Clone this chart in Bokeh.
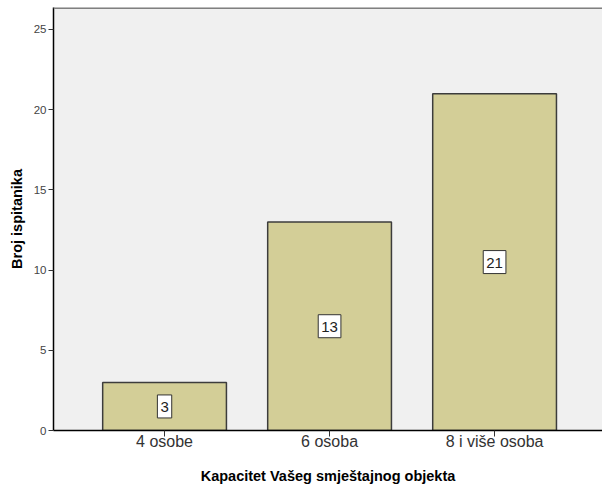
from bokeh.plotting import figure
from bokeh.models import Range1d, FixedTicker, Span, ColumnDataSource
from bokeh.embed import file_html
from bokeh.resources import INLINE
from bokeh.core.properties import value

categories = ["4 osobe", "6 osoba", "8 i više osoba"]
counts = [3, 13, 21]
y_ticks = [0, 5, 10, 15, 20, 25]
x_title = "Kapacitet Vašeg smještajnog objekta"
y_title = "Broj ispitanika"

xs = [i + 0.5 for i in range(len(categories))]
mids = [c / 2 for c in counts]
src = ColumnDataSource(dict(x=xs, top=counts, mid=mids, lbl=[str(c) for c in counts]))

Y_END = 26.37
p = figure(frame_width=549, frame_height=423, output_backend="svg", toolbar_location=None,
           x_range=Range1d(-0.173, 3.154), y_range=Range1d(0, Y_END),
           min_border_left=53, min_border_right=0, min_border_top=7, min_border_bottom=54)
p.background_fill_color = "#f0f0f0"
p.border_fill_color = "white"
p.outline_line_color = None
p.xgrid.visible = False
p.ygrid.visible = False

p.vbar(x="x", top="top", width=0.75, bottom=0, source=src,
       fill_color="#d3ce97", line_color="#3c3c3c", line_width=1.5)

p.text(x="x", y="mid", text="lbl", source=src, text_align="center", text_baseline="middle",
       text_font=value("Liberation Sans"), text_font_size="15px", text_color="#222222",
       background_fill_color="white", border_line_color="#333333", border_line_width=1,
       padding=[3, 3, 7, 6])

p.add_layout(Span(location=Y_END, dimension="width", line_color="#808080", line_width=3))

xa = p.xaxis[0]
xa.ticker = FixedTicker(ticks=xs)
xa.major_label_overrides = {x: c for x, c in zip(xs, categories)}
xa.axis_line_color = "black"
xa.axis_line_width = 1.5
xa.major_tick_line_color = "#333333"
xa.major_tick_in = 0
xa.major_tick_out = 6
xa.minor_tick_line_color = None
xa.major_label_text_font = "Liberation Sans"
xa.major_label_text_font_size = "16px"
xa.major_label_text_color = "#333333"
xa.major_label_standoff = -4
xa.axis_label = x_title
xa.axis_label_text_font = "Liberation Sans"
xa.axis_label_text_font_style = "bold"
xa.axis_label_text_font_size = "14.5px"
xa.axis_label_text_color = "black"
xa.axis_label_standoff = 15

ya = p.yaxis[0]
ya.ticker = FixedTicker(ticks=y_ticks)
ya.axis_line_color = "black"
ya.axis_line_width = 1.5
ya.major_tick_line_color = "#333333"
ya.major_tick_in = 0
ya.major_tick_out = 5
ya.minor_tick_line_color = None
ya.major_label_text_font = "Liberation Sans"
ya.major_label_text_font_size = "11.5px"
ya.major_label_text_color = "#444444"
ya.major_label_standoff = 2
ya.axis_label = y_title
ya.axis_label_text_font = "Liberation Sans"
ya.axis_label_text_font_style = "bold"
ya.axis_label_text_font_size = "14.5px"
ya.axis_label_text_color = "black"
ya.axis_label_standoff = 6

open("out.html", "w").write(file_html(p, INLINE))
